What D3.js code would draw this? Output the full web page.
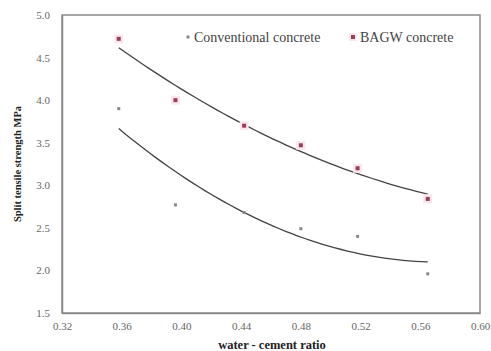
<!DOCTYPE html>
<html>
<head>
<meta charset="utf-8">
<script src="https://cdn.jsdelivr.net/npm/d3@7"></script>
<style>
  body { margin: 0; background: #fff; }
  text { font-family: "Liberation Serif", "DejaVu Serif", serif; }
</style>
</head>
<body>
<div id="chart"></div>
<script>
// water-cement ratios as plotted
const ratioConv = [0.358, 0.396, 0.442, 0.480, 0.518, 0.565];
const ratioBagw = [0.358, 0.396, 0.442, 0.480, 0.518, 0.565];
const conventional = [3.90, 2.77, 2.68, 2.49, 2.40, 1.96];
const bagw = [4.72, 4.00, 3.70, 3.47, 3.20, 2.84];
const xTicks = [0.32, 0.36, 0.40, 0.44, 0.48, 0.52, 0.56, 0.60];
const yTicks = [1.5, 2.0, 2.5, 3.0, 3.5, 4.0, 4.5, 5.0];

// quadratic least squares (excel-like trendline)
function polyFit(xs, ys) {
    let S = [0,0,0,0,0], T = [0,0,0];
    xs.forEach((x, i) => {
        for (let k = 0; k < 5; k++) S[k] += Math.pow(x, k);
        for (let k = 0; k < 3; k++) T[k] += Math.pow(x, k) * ys[i];
    });
    let A = [[S[0],S[1],S[2],T[0]],[S[1],S[2],S[3],T[1]],[S[2],S[3],S[4],T[2]]];
    for (let i = 0; i < 3; i++) {
        for (let j = i + 1; j < 3; j++) {
            let f = A[j][i] / A[i][i];
            for (let k = i; k < 4; k++) A[j][k] -= f * A[i][k];
        }
    }
    let c = [0,0,0];
    for (let i = 2; i >= 0; i--) {
        let s = A[i][3];
        for (let k = i + 1; k < 3; k++) s -= A[i][k] * c[k];
        c[i] = s / A[i][i];
    }
    return x => c[0] + c[1]*x + c[2]*x*x;
}

const W = 491, H = 351;
const margin = {top: 15, right: 11, bottom: 38, left: 62};

const svg = d3.select('#chart').append('svg')
    .attr('width', W)
    .attr('height', H);

const xScale = d3.scaleLinear().domain([0.32, 0.60]).range([margin.left, W - margin.right]);
const yScale = d3.scaleLinear().domain([1.5, 5.0]).range([H - margin.bottom, margin.top]);

// frame
svg.append('rect')
    .attr('x', margin.left).attr('y', margin.top)
    .attr('width', W - margin.left - margin.right)
    .attr('height', H - margin.top - margin.bottom)
    .attr('fill', 'none').attr('stroke', '#8a8a8a').attr('stroke-width', 1.5);

// axes
let xAxis = svg.append('g')
    .attr('transform', `translate(0, ${H - margin.bottom})`)
    .call(d3.axisBottom(xScale).tickValues(xTicks).tickSize(0).tickPadding(9).tickFormat(d3.format('.2f')));
let yAxis = svg.append('g')
    .attr('transform', `translate(${margin.left}, 0)`)
    .call(d3.axisLeft(yScale).tickValues(yTicks).tickSize(0).tickPadding(12).tickFormat(d3.format('.1f')));
[xAxis, yAxis].forEach(a => {
    a.attr('font-family', '"Liberation Serif", serif').attr('font-size', 11);
    a.select('.domain').attr('stroke', '#8a8a8a').attr('stroke-width', 1.5);
    a.selectAll('text').attr('fill', '#666');
});

// trendlines
const line = d3.line().x(d => xScale(d[0])).y(d => yScale(d[1]));
function trend(xs, ys) {
    let f = polyFit(xs, ys);
    let lo = d3.min(xs), hi = d3.max(xs);
    return d3.range(0, 51).map(i => { let x = lo + (hi - lo) * i / 50; return [x, f(x)]; });
}
svg.append('path').datum(trend(ratioBagw, bagw)).attr('d', line)
    .attr('fill', 'none').attr('stroke', '#444').attr('stroke-width', 1.3);
svg.append('path').datum(trend(ratioConv, conventional)).attr('d', line)
    .attr('fill', 'none').attr('stroke', '#444').attr('stroke-width', 1.3);

// points
svg.selectAll('.conv').data(conventional).enter().append('rect')
    .attr('class', 'conv')
    .attr('x', (d, i) => xScale(ratioConv[i]) - 1.5)
    .attr('y', d => yScale(d) - 1.5)
    .attr('width', 3).attr('height', 3)
    .attr('fill', '#888');
svg.selectAll('.bagwHalo').data(bagw).enter().append('rect')
    .attr('x', (d, i) => xScale(ratioBagw[i]) - 4.5)
    .attr('y', d => yScale(d) - 4.5)
    .attr('width', 9).attr('height', 9)
    .attr('fill', '#fbe6ed');
svg.selectAll('.bagw').data(bagw).enter().append('rect')
    .attr('class', 'bagw')
    .attr('x', (d, i) => xScale(ratioBagw[i]) - 2)
    .attr('y', d => yScale(d) - 2)
    .attr('width', 4).attr('height', 4)
    .attr('fill', '#9a3d5c');

// legend
const legend = svg.append('g').attr('transform', 'translate(188, 37)');
legend.append('rect').attr('x', -1.5).attr('y', -1.5).attr('width', 3).attr('height', 3).attr('fill', '#888');
legend.append('text').attr('x', 6).attr('y', 4.5).text('Conventional concrete')
    .style('font-size', '14px').attr('fill', '#444');
legend.append('rect').attr('x', 161).attr('y', -4).attr('width', 8).attr('height', 8).attr('fill', '#fbe6ed');
legend.append('rect').attr('x', 163).attr('y', -2).attr('width', 4).attr('height', 4).attr('fill', '#9a3d5c');
legend.append('text').attr('x', 172).attr('y', 4.5).text('BAGW concrete')
    .style('font-size', '14px').attr('fill', '#444');

// axis titles
svg.append('text')
    .attr('x', 272)
    .attr('y', H - 2)
    .attr('text-anchor', 'middle')
    .style('font-size', '12.5px').style('font-weight', 'bold').attr('fill', '#222')
    .text('water - cement ratio');
svg.append('text')
    .attr('transform', `translate(21, 164) rotate(-90)`)
    .attr('text-anchor', 'middle')
    .style('font-size', '10.5px').style('font-weight', 'bold').attr('fill', '#222')
    .text('Split tensile strength MPa');
</script>
</body>
</html>
